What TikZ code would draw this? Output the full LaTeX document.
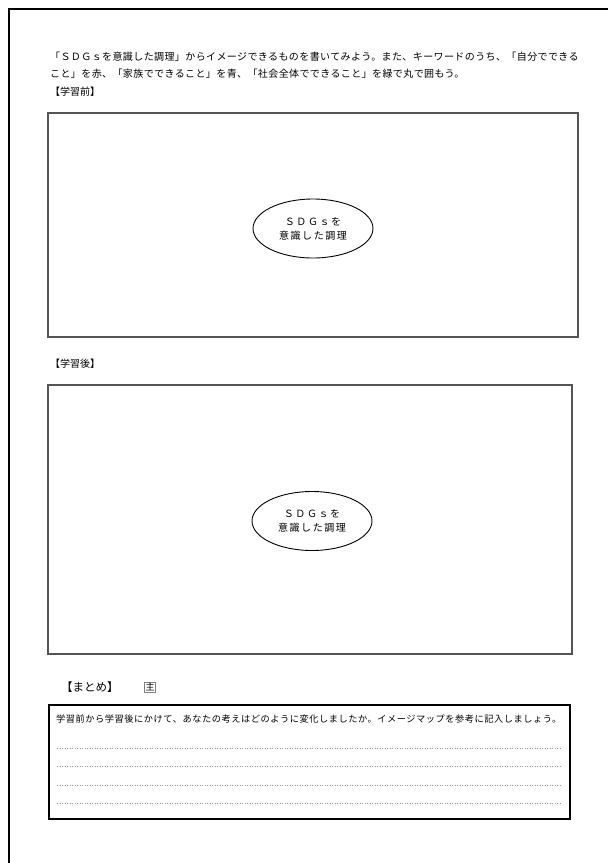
\documentclass[tikz,border=0pt]{standalone}
\usepackage{fontspec}
\setmainfont{Noto Sans CJK JP}
\usetikzlibrary{shapes.geometric}
\definecolor{boxgray}{RGB}{85,85,85}
\definecolor{dotgray}{RGB}{150,150,150}
\tikzset{
  txt/.style={anchor=west, inner sep=0pt, font=\fontsize{10}{12}\selectfont\addfontfeatures{LetterSpace=4}},
  head/.style={anchor=west, inner sep=0pt, font=\fontsize{10}{12}\selectfont},
  mapbox/.style={draw=boxgray, line width=1.2pt},
  hub/.style={draw=black, line width=0.9pt, ellipse, inner sep=0pt, minimum width=120pt, minimum height=59pt, align=center, font=\fontsize{10}{14}\selectfont\addfontfeatures{LetterSpace=16}},
  sumbox/.style={draw=black, line width=2.2pt},
  writeline/.style={draw=dotgray, dotted, line width=0.5pt},
  small/.style={anchor=west, inner sep=0pt, font=\fontsize{9.2}{11}\selectfont\addfontfeatures{LetterSpace=6}},
}
\begin{document}
\begin{tikzpicture}[x=1pt,y=-1pt]
\useasboundingbox (0,0) rectangle (608,863);
% page frame
\coordinate (pfb) at (9,863);
\coordinate (pftl) at (9,9);
\coordinate (pfr) at (608,9);
\draw[line width=2.2pt] (pfb) -- (pftl) -- (pfr);
% instructions
\node[txt] (l1) at (50,57) {「ＳＤＧｓを意識した調理」からイメージできるものを書いてみよう。また、キーワードのうち、「自分でできる};
\node[txt] (l2) at (50,74) {こと」を赤、「家族でできること」を青、「社会全体でできること」を緑で丸で囲もう。};
\node[head] (h1) at (50,92) {【学習前】};
% box 1
\draw[mapbox] (48,113) rectangle (578,337);
\node[hub] (e1) at (313,228.5) {ＳＤＧｓを\\意識した調理};
% box 2
\node[head] (h2) at (50,364) {【学習後】};
\draw[mapbox] (48,385) rectangle (572,654);
\node[hub] (e2) at (312,521) {ＳＤＧｓを\\意識した調理};
% summary
\node[head, font=\fontsize{11.5}{13}\selectfont] (h3) at (61,687) {【まとめ】};
\node[draw=gray, line width=0.5pt, inner sep=1pt, font=\fontsize{9}{10}\selectfont] (shu) at (150,687) {主};
\draw[sumbox] (49,705) rectangle (570,819);
\node[small] (st) at (56,719) {学習前から学習後にかけて、あなたの考えはどのように変化しましたか。イメージマップを参考に記入しましょう。};
\foreach \yy in {748,766,785,803} {
  \draw[writeline] (57,\yy) -- (562,\yy);
}
\end{tikzpicture}
\end{document}
